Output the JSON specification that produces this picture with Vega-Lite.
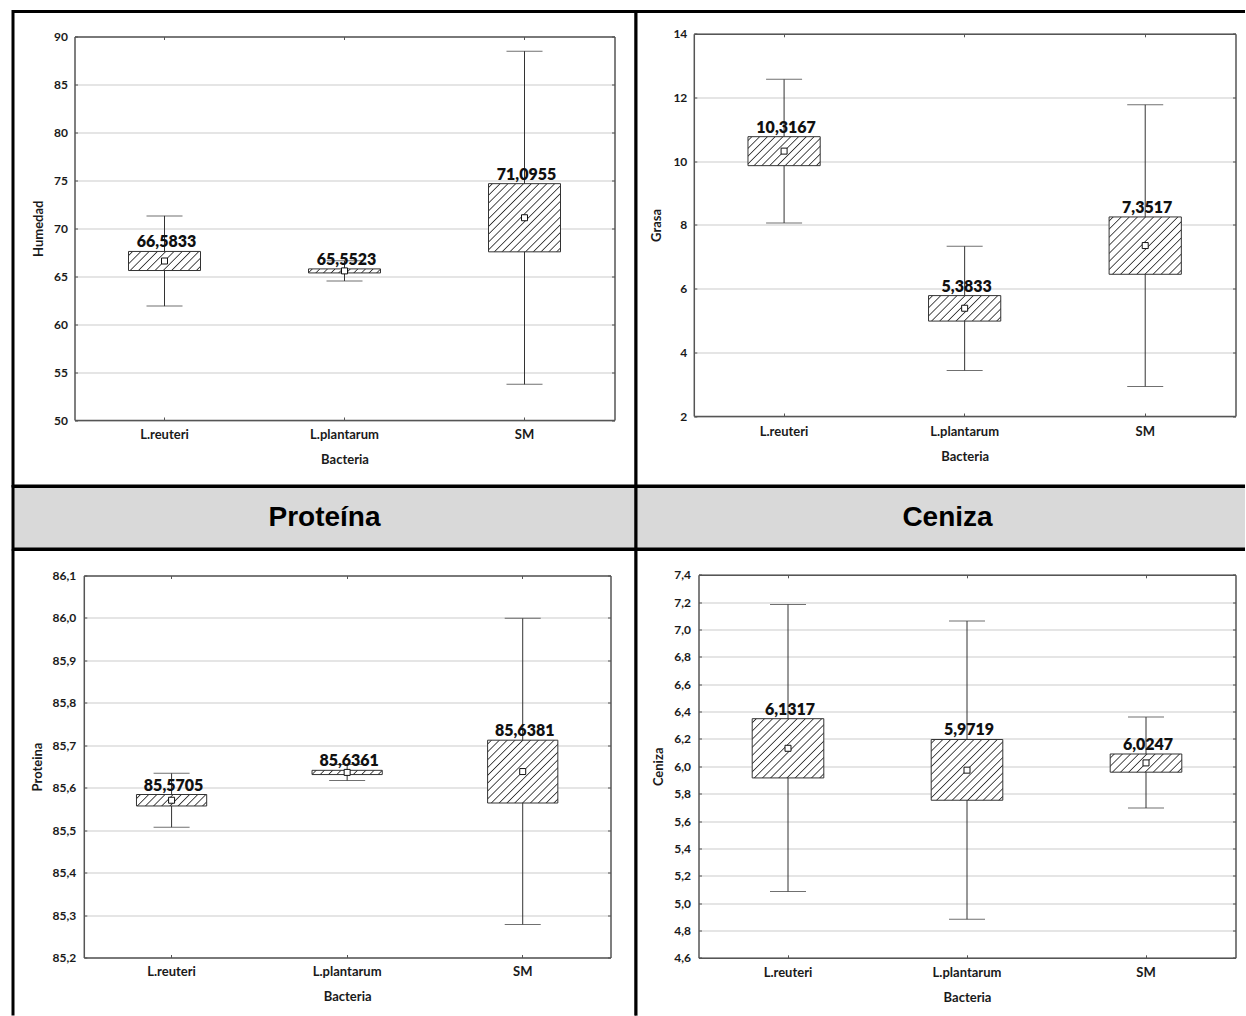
{
  "$schema": "https://vega.github.io/schema/vega-lite/v6.json",
  "padding": {"left": 11, "top": 9.5, "right": 0, "bottom": 0},
  "autosize": {"type": "pad"},
  "background": "white",
  "columns": 2,
  "spacing": 0,
  "bounds": "flush",
  "config": {
    "locale": {"number": {"decimal": ",", "thousands": ".", "grouping": [3], "currency": ["", " €"]}},
    "axis": {"labelFont": "Lato", "labelFontWeight": "bold", "labelFontSize": 12, "labelColor": "#1a1a1a", "titleFont": "Lato", "titleFontWeight": "bold", "titleFontSize": 13, "titleColor": "#1a1a1a", "domainColor": "#555555", "domainWidth": 1.5, "tickColor": "#555555", "tickWidth": 1, "gridColor": "#dcdcdc", "gridWidth": 1.5, "labelAngle": 0},
    "axisX": {"labelFontSize": 13},
    "text": {"font": "Lato"}
  },
  "datasets": {
    "humedad": [
      {"Bacteria": "L.reuteri", "mean": 66.5833, "boxLo": 65.59, "boxHi": 67.58, "whLo": 61.88, "whHi": 71.29},
      {"Bacteria": "L.plantarum", "mean": 65.5523, "boxLo": 65.34, "boxHi": 65.76, "whLo": 64.5, "whHi": 66.6},
      {"Bacteria": "SM", "mean": 71.0955, "boxLo": 67.54, "boxHi": 74.65, "whLo": 53.72, "whHi": 88.47}
    ],
    "grasa": [
      {"Bacteria": "L.reuteri", "mean": 10.3167, "boxLo": 9.86, "boxHi": 10.77, "whLo": 8.06, "whHi": 12.57},
      {"Bacteria": "L.plantarum", "mean": 5.3833, "boxLo": 4.98, "boxHi": 5.78, "whLo": 3.43, "whHi": 7.33},
      {"Bacteria": "SM", "mean": 7.3517, "boxLo": 6.45, "boxHi": 8.25, "whLo": 2.93, "whHi": 11.77}
    ],
    "proteina": [
      {"Bacteria": "L.reuteri", "mean": 85.5705, "boxLo": 85.557, "boxHi": 85.584, "whLo": 85.507, "whHi": 85.634},
      {"Bacteria": "L.plantarum", "mean": 85.6361, "boxLo": 85.631, "boxHi": 85.641, "whLo": 85.617, "whHi": 85.655},
      {"Bacteria": "SM", "mean": 85.6381, "boxLo": 85.564, "boxHi": 85.712, "whLo": 85.278, "whHi": 85.999}
    ],
    "ceniza": [
      {"Bacteria": "L.reuteri", "mean": 6.1317, "boxLo": 5.915, "boxHi": 6.348, "whLo": 5.085, "whHi": 7.183},
      {"Bacteria": "L.plantarum", "mean": 5.9719, "boxLo": 5.752, "boxHi": 6.196, "whLo": 4.882, "whHi": 7.062},
      {"Bacteria": "SM", "mean": 6.0247, "boxLo": 5.957, "boxHi": 6.09, "whLo": 5.695, "whHi": 6.36}
    ],
    "headP": [{"t": "Proteína"}],
    "headC": [{"t": "Ceniza"}]
  },
  "concat": [
    {
      "width": 623, "height": 474.5,
      "view": {"fill": "white", "stroke": "black", "strokeWidth": 3},
      "data": {"name": "humedad"},
      "resolve": {"axis": {"x": "independent", "y": "independent"}},
      "layer": [
        {"mark": {"type": "rule", "stroke": "#333333", "strokeWidth": 1},
         "encoding": {
           "x": {"field": "Bacteria", "type": "nominal", "scale": {"domain": ["L.reuteri", "L.plantarum", "SM"], "range": [61.5, 601.5], "paddingInner": 0, "paddingOuter": 0}, "axis": {"orient": "bottom", "offset": -66, "title": "Bacteria", "tickSize": -3, "labelPadding": 11, "titlePadding": 12, "grid": false}},
           "y": {"field": "whLo", "type": "quantitative", "scale": {"domain": [50, 90], "range": [408.5, 25], "nice": false, "zero": false}, "axis": {"orient": "left", "offset": -61.5, "title": "Humedad", "values": [50, 55, 60, 65, 70, 75, 80, 85, 90], "format": "d", "tickSize": -3, "labelPadding": 10, "titlePadding": 8, "grid": true}},
           "y2": {"field": "whHi"}}},
        {"mark": {"type": "tick", "size": 36, "thickness": 1, "color": "#333333"},
         "encoding": {
           "x": {"field": "Bacteria", "type": "nominal", "scale": {"domain": ["L.reuteri", "L.plantarum", "SM"], "range": [61.5, 601.5], "paddingInner": 0, "paddingOuter": 0}, "axis": {"orient": "top", "offset": -25, "labels": false, "title": null, "tickSize": -3, "grid": false}},
           "y": {"field": "whHi", "type": "quantitative", "scale": {"domain": [50, 90], "range": [408.5, 25], "nice": false, "zero": false}, "axis": {"orient": "right", "offset": -21.5, "labels": false, "title": null, "values": [50, 55, 60, 65, 70, 75, 80, 85, 90], "tickSize": -3, "grid": false}}}},
        {"mark": {"type": "tick", "size": 36, "thickness": 1, "color": "#333333"},
         "encoding": {
           "x": {"field": "Bacteria", "type": "nominal", "scale": {"domain": ["L.reuteri", "L.plantarum", "SM"], "range": [61.5, 601.5], "paddingInner": 0, "paddingOuter": 0}, "axis": null},
           "y": {"field": "whLo", "type": "quantitative", "scale": {"domain": [50, 90], "range": [408.5, 25], "nice": false, "zero": false}, "axis": null}}},
        {"mark": {"type": "bar", "width": {"band": 0.4}, "stroke": "#333333", "strokeWidth": 1},
         "encoding": {
           "x": {"field": "Bacteria", "type": "nominal", "scale": {"domain": ["L.reuteri", "L.plantarum", "SM"], "range": [61.5, 601.5], "paddingInner": 0, "paddingOuter": 0}, "axis": null},
           "y": {"field": "boxHi", "type": "quantitative", "scale": {"domain": [50, 90], "range": [408.5, 25], "nice": false, "zero": false}, "axis": null},
           "y2": {"field": "boxLo"},
           "fill": {
             "condition": [
               {"test": "datum.Bacteria === 'L.reuteri'", "value": {"gradient": "linear", "x1": 0, "y1": 0, "x2": 1.182, "y2": 0.3132, "stops": [
                 {"offset": 0.0322, "color": "#fff"}, {"offset": 0.0455, "color": "#333"}, {"offset": 0.0588, "color": "#fff"},
                 {"offset": 0.1231, "color": "#fff"}, {"offset": 0.1364, "color": "#333"}, {"offset": 0.1497, "color": "#fff"},
                 {"offset": 0.2140, "color": "#fff"}, {"offset": 0.2273, "color": "#333"}, {"offset": 0.2406, "color": "#fff"},
                 {"offset": 0.3049, "color": "#fff"}, {"offset": 0.3182, "color": "#333"}, {"offset": 0.3315, "color": "#fff"},
                 {"offset": 0.3958, "color": "#fff"}, {"offset": 0.4091, "color": "#333"}, {"offset": 0.4224, "color": "#fff"},
                 {"offset": 0.4867, "color": "#fff"}, {"offset": 0.5, "color": "#333"}, {"offset": 0.5133, "color": "#fff"},
                 {"offset": 0.5776, "color": "#fff"}, {"offset": 0.5909, "color": "#333"}, {"offset": 0.6042, "color": "#fff"},
                 {"offset": 0.6685, "color": "#fff"}, {"offset": 0.6818, "color": "#333"}, {"offset": 0.6951, "color": "#fff"},
                 {"offset": 0.7594, "color": "#fff"}, {"offset": 0.7727, "color": "#333"}, {"offset": 0.7860, "color": "#fff"},
                 {"offset": 0.8503, "color": "#fff"}, {"offset": 0.8636, "color": "#333"}, {"offset": 0.8769, "color": "#fff"},
                 {"offset": 0.9412, "color": "#fff"}, {"offset": 0.9545, "color": "#333"}, {"offset": 0.9678, "color": "#fff"}]}},
               {"test": "datum.Bacteria === 'L.plantarum'", "value": {"gradient": "linear", "x1": 0, "y1": 0, "x2": 1.0527, "y2": 0.0589, "stops": [
                 {"offset": 0.0348, "color": "#fff"}, {"offset": 0.05, "color": "#333"}, {"offset": 0.0652, "color": "#fff"},
                 {"offset": 0.1348, "color": "#fff"}, {"offset": 0.15, "color": "#333"}, {"offset": 0.1652, "color": "#fff"},
                 {"offset": 0.2348, "color": "#fff"}, {"offset": 0.25, "color": "#333"}, {"offset": 0.2652, "color": "#fff"},
                 {"offset": 0.3348, "color": "#fff"}, {"offset": 0.35, "color": "#333"}, {"offset": 0.3652, "color": "#fff"},
                 {"offset": 0.4348, "color": "#fff"}, {"offset": 0.45, "color": "#333"}, {"offset": 0.4652, "color": "#fff"},
                 {"offset": 0.5348, "color": "#fff"}, {"offset": 0.55, "color": "#333"}, {"offset": 0.5652, "color": "#fff"},
                 {"offset": 0.6348, "color": "#fff"}, {"offset": 0.65, "color": "#333"}, {"offset": 0.6652, "color": "#fff"},
                 {"offset": 0.7348, "color": "#fff"}, {"offset": 0.75, "color": "#333"}, {"offset": 0.7652, "color": "#fff"},
                 {"offset": 0.8348, "color": "#fff"}, {"offset": 0.85, "color": "#333"}, {"offset": 0.8652, "color": "#fff"},
                 {"offset": 0.9348, "color": "#fff"}, {"offset": 0.95, "color": "#333"}, {"offset": 0.9652, "color": "#fff"}]}}
             ],
             "value": {"gradient": "linear", "x1": 0, "y1": 0, "x2": 1.0266, "y2": 0.972, "stops": [
               {"offset": 0.0192, "color": "#fff"}, {"offset": 0.0278, "color": "#333"}, {"offset": 0.0364, "color": "#fff"},
               {"offset": 0.0747, "color": "#fff"}, {"offset": 0.0833, "color": "#333"}, {"offset": 0.0919, "color": "#fff"},
               {"offset": 0.1303, "color": "#fff"}, {"offset": 0.1389, "color": "#333"}, {"offset": 0.1475, "color": "#fff"},
               {"offset": 0.1858, "color": "#fff"}, {"offset": 0.1944, "color": "#333"}, {"offset": 0.2030, "color": "#fff"},
               {"offset": 0.2414, "color": "#fff"}, {"offset": 0.25, "color": "#333"}, {"offset": 0.2586, "color": "#fff"},
               {"offset": 0.2970, "color": "#fff"}, {"offset": 0.3056, "color": "#333"}, {"offset": 0.3142, "color": "#fff"},
               {"offset": 0.3525, "color": "#fff"}, {"offset": 0.3611, "color": "#333"}, {"offset": 0.3697, "color": "#fff"},
               {"offset": 0.4081, "color": "#fff"}, {"offset": 0.4167, "color": "#333"}, {"offset": 0.4253, "color": "#fff"},
               {"offset": 0.4636, "color": "#fff"}, {"offset": 0.4722, "color": "#333"}, {"offset": 0.4808, "color": "#fff"},
               {"offset": 0.5192, "color": "#fff"}, {"offset": 0.5278, "color": "#333"}, {"offset": 0.5364, "color": "#fff"},
               {"offset": 0.5747, "color": "#fff"}, {"offset": 0.5833, "color": "#333"}, {"offset": 0.5919, "color": "#fff"},
               {"offset": 0.6303, "color": "#fff"}, {"offset": 0.6389, "color": "#333"}, {"offset": 0.6475, "color": "#fff"},
               {"offset": 0.6858, "color": "#fff"}, {"offset": 0.6944, "color": "#333"}, {"offset": 0.7030, "color": "#fff"},
               {"offset": 0.7414, "color": "#fff"}, {"offset": 0.75, "color": "#333"}, {"offset": 0.7586, "color": "#fff"},
               {"offset": 0.7970, "color": "#fff"}, {"offset": 0.8056, "color": "#333"}, {"offset": 0.8142, "color": "#fff"},
               {"offset": 0.8525, "color": "#fff"}, {"offset": 0.8611, "color": "#333"}, {"offset": 0.8697, "color": "#fff"},
               {"offset": 0.9081, "color": "#fff"}, {"offset": 0.9167, "color": "#333"}, {"offset": 0.9253, "color": "#fff"},
               {"offset": 0.9636, "color": "#fff"}, {"offset": 0.9722, "color": "#333"}, {"offset": 0.9808, "color": "#fff"}]}
           }}},
        {"mark": {"type": "point", "shape": "square", "size": 36, "filled": true, "fill": "white", "stroke": "#111111", "strokeWidth": 1, "opacity": 1},
         "encoding": {
           "x": {"field": "Bacteria", "type": "nominal", "scale": {"domain": ["L.reuteri", "L.plantarum", "SM"], "range": [61.5, 601.5], "paddingInner": 0, "paddingOuter": 0}, "axis": null},
           "y": {"field": "mean", "type": "quantitative", "scale": {"domain": [50, 90], "range": [408.5, 25], "nice": false, "zero": false}, "axis": null}}},
        {"mark": {"type": "text", "font": "Lato", "fontWeight": 800, "fontSize": 16, "baseline": "bottom", "dy": -1, "dx": 2, "color": "#111111"},
         "encoding": {
           "x": {"field": "Bacteria", "type": "nominal", "scale": {"domain": ["L.reuteri", "L.plantarum", "SM"], "range": [61.5, 601.5], "paddingInner": 0, "paddingOuter": 0}, "axis": null},
           "y": {"field": "boxHi", "type": "quantitative", "scale": {"domain": [50, 90], "range": [408.5, 25], "nice": false, "zero": false}, "axis": null},
           "text": {"field": "mean", "type": "quantitative", "format": ".4f"}}}
      ]
    },
    {
      "width": 609, "height": 474.5,
      "view": {"fill": "white", "stroke": "black", "strokeWidth": 3, "strokeDash": [609, 474.5, 1083.5, 0]},
      "data": {"name": "grasa"},
      "resolve": {"axis": {"x": "independent", "y": "independent"}},
      "layer": [
        {"mark": {"type": "rule", "stroke": "#333333", "strokeWidth": 1},
         "encoding": {
           "x": {"field": "Bacteria", "type": "nominal", "scale": {"domain": ["L.reuteri", "L.plantarum", "SM"], "range": [57.8, 599.5], "paddingInner": 0, "paddingOuter": 0}, "axis": {"orient": "bottom", "offset": -70, "title": "Bacteria", "tickSize": -3, "labelPadding": 12.5, "titlePadding": 12, "grid": false}},
           "y": {"field": "whLo", "type": "quantitative", "scale": {"domain": [2, 14], "range": [404.5, 22.3], "nice": false, "zero": false}, "axis": {"orient": "left", "offset": -57.8, "title": "Grasa", "values": [2, 4, 6, 8, 10, 12, 14], "format": "d", "tickSize": -3, "labelPadding": 10, "titlePadding": 9, "grid": true}},
           "y2": {"field": "whHi"}}},
        {"mark": {"type": "tick", "size": 36, "thickness": 1, "color": "#333333"},
         "encoding": {
           "x": {"field": "Bacteria", "type": "nominal", "scale": {"domain": ["L.reuteri", "L.plantarum", "SM"], "range": [57.8, 599.5], "paddingInner": 0, "paddingOuter": 0}, "axis": {"orient": "top", "offset": -22.3, "labels": false, "title": null, "tickSize": -3, "grid": false}},
           "y": {"field": "whHi", "type": "quantitative", "scale": {"domain": [2, 14], "range": [404.5, 22.3], "nice": false, "zero": false}, "axis": {"orient": "right", "offset": -9.5, "labels": false, "title": null, "values": [2, 4, 6, 8, 10, 12, 14], "tickSize": -3, "grid": false}}}},
        {"mark": {"type": "tick", "size": 36, "thickness": 1, "color": "#333333"},
         "encoding": {
           "x": {"field": "Bacteria", "type": "nominal", "scale": {"domain": ["L.reuteri", "L.plantarum", "SM"], "range": [57.8, 599.5], "paddingInner": 0, "paddingOuter": 0}, "axis": null},
           "y": {"field": "whLo", "type": "quantitative", "scale": {"domain": [2, 14], "range": [404.5, 22.3], "nice": false, "zero": false}, "axis": null}}},
        {"mark": {"type": "bar", "width": {"band": 0.4}, "stroke": "#333333", "strokeWidth": 1},
         "encoding": {
           "x": {"field": "Bacteria", "type": "nominal", "scale": {"domain": ["L.reuteri", "L.plantarum", "SM"], "range": [57.8, 599.5], "paddingInner": 0, "paddingOuter": 0}, "axis": null},
           "y": {"field": "boxHi", "type": "quantitative", "scale": {"domain": [2, 14], "range": [404.5, 22.3], "nice": false, "zero": false}, "axis": null},
           "y2": {"field": "boxLo"},
           "fill": {
             "condition": [
               {"test": "datum.Bacteria === 'L.reuteri'", "value": {"gradient": "linear", "x1": 0, "y1": 0, "x2": 1.207, "y2": 0.4843, "stops": [
                 {"offset": 0.0266, "color": "#fff"}, {"offset": 0.0385, "color": "#333"}, {"offset": 0.0504, "color": "#fff"},
                 {"offset": 0.1035, "color": "#fff"}, {"offset": 0.1154, "color": "#333"}, {"offset": 0.1273, "color": "#fff"},
                 {"offset": 0.1804, "color": "#fff"}, {"offset": 0.1923, "color": "#333"}, {"offset": 0.2042, "color": "#fff"},
                 {"offset": 0.2573, "color": "#fff"}, {"offset": 0.2692, "color": "#333"}, {"offset": 0.2811, "color": "#fff"},
                 {"offset": 0.3343, "color": "#fff"}, {"offset": 0.3462, "color": "#333"}, {"offset": 0.3581, "color": "#fff"},
                 {"offset": 0.4112, "color": "#fff"}, {"offset": 0.4231, "color": "#333"}, {"offset": 0.4350, "color": "#fff"},
                 {"offset": 0.4881, "color": "#fff"}, {"offset": 0.5, "color": "#333"}, {"offset": 0.5119, "color": "#fff"},
                 {"offset": 0.5650, "color": "#fff"}, {"offset": 0.5769, "color": "#333"}, {"offset": 0.5888, "color": "#fff"},
                 {"offset": 0.6419, "color": "#fff"}, {"offset": 0.6538, "color": "#333"}, {"offset": 0.6657, "color": "#fff"},
                 {"offset": 0.7189, "color": "#fff"}, {"offset": 0.7308, "color": "#333"}, {"offset": 0.7427, "color": "#fff"},
                 {"offset": 0.7958, "color": "#fff"}, {"offset": 0.8077, "color": "#333"}, {"offset": 0.8196, "color": "#fff"},
                 {"offset": 0.8727, "color": "#fff"}, {"offset": 0.8846, "color": "#333"}, {"offset": 0.8965, "color": "#fff"},
                 {"offset": 0.9496, "color": "#fff"}, {"offset": 0.9615, "color": "#333"}, {"offset": 0.9734, "color": "#fff"}]}},
               {"test": "datum.Bacteria === 'L.plantarum'", "value": {"gradient": "linear", "x1": 0, "y1": 0, "x2": 1.2031, "y2": 0.4244, "stops": [
                 {"offset": 0.0294, "color": "#fff"}, {"offset": 0.0417, "color": "#333"}, {"offset": 0.0540, "color": "#fff"},
                 {"offset": 0.1127, "color": "#fff"}, {"offset": 0.125, "color": "#333"}, {"offset": 0.1373, "color": "#fff"},
                 {"offset": 0.1960, "color": "#fff"}, {"offset": 0.2083, "color": "#333"}, {"offset": 0.2206, "color": "#fff"},
                 {"offset": 0.2794, "color": "#fff"}, {"offset": 0.2917, "color": "#333"}, {"offset": 0.3040, "color": "#fff"},
                 {"offset": 0.3627, "color": "#fff"}, {"offset": 0.375, "color": "#333"}, {"offset": 0.3873, "color": "#fff"},
                 {"offset": 0.4460, "color": "#fff"}, {"offset": 0.4583, "color": "#333"}, {"offset": 0.4706, "color": "#fff"},
                 {"offset": 0.5294, "color": "#fff"}, {"offset": 0.5417, "color": "#333"}, {"offset": 0.5540, "color": "#fff"},
                 {"offset": 0.6127, "color": "#fff"}, {"offset": 0.625, "color": "#333"}, {"offset": 0.6373, "color": "#fff"},
                 {"offset": 0.6960, "color": "#fff"}, {"offset": 0.7083, "color": "#333"}, {"offset": 0.7206, "color": "#fff"},
                 {"offset": 0.7794, "color": "#fff"}, {"offset": 0.7917, "color": "#333"}, {"offset": 0.8040, "color": "#fff"},
                 {"offset": 0.8627, "color": "#fff"}, {"offset": 0.875, "color": "#333"}, {"offset": 0.8873, "color": "#fff"},
                 {"offset": 0.9460, "color": "#fff"}, {"offset": 0.9583, "color": "#333"}, {"offset": 0.9706, "color": "#fff"}]}}
             ],
             "value": {"gradient": "linear", "x1": 0, "y1": 0, "x2": 1.1004, "y2": 0.8734, "stops": [
               {"offset": 0.0221, "color": "#fff"}, {"offset": 0.0313, "color": "#333"}, {"offset": 0.0405, "color": "#fff"},
               {"offset": 0.0846, "color": "#fff"}, {"offset": 0.0938, "color": "#333"}, {"offset": 0.1030, "color": "#fff"},
               {"offset": 0.1471, "color": "#fff"}, {"offset": 0.1563, "color": "#333"}, {"offset": 0.1655, "color": "#fff"},
               {"offset": 0.2096, "color": "#fff"}, {"offset": 0.2188, "color": "#333"}, {"offset": 0.2280, "color": "#fff"},
               {"offset": 0.2721, "color": "#fff"}, {"offset": 0.2813, "color": "#333"}, {"offset": 0.2905, "color": "#fff"},
               {"offset": 0.3346, "color": "#fff"}, {"offset": 0.3438, "color": "#333"}, {"offset": 0.3530, "color": "#fff"},
               {"offset": 0.3971, "color": "#fff"}, {"offset": 0.4063, "color": "#333"}, {"offset": 0.4155, "color": "#fff"},
               {"offset": 0.4596, "color": "#fff"}, {"offset": 0.4688, "color": "#333"}, {"offset": 0.4780, "color": "#fff"},
               {"offset": 0.5221, "color": "#fff"}, {"offset": 0.5313, "color": "#333"}, {"offset": 0.5405, "color": "#fff"},
               {"offset": 0.5846, "color": "#fff"}, {"offset": 0.5938, "color": "#333"}, {"offset": 0.6030, "color": "#fff"},
               {"offset": 0.6471, "color": "#fff"}, {"offset": 0.6563, "color": "#333"}, {"offset": 0.6655, "color": "#fff"},
               {"offset": 0.7096, "color": "#fff"}, {"offset": 0.7188, "color": "#333"}, {"offset": 0.7280, "color": "#fff"},
               {"offset": 0.7721, "color": "#fff"}, {"offset": 0.7813, "color": "#333"}, {"offset": 0.7905, "color": "#fff"},
               {"offset": 0.8346, "color": "#fff"}, {"offset": 0.8438, "color": "#333"}, {"offset": 0.8530, "color": "#fff"},
               {"offset": 0.8971, "color": "#fff"}, {"offset": 0.9063, "color": "#333"}, {"offset": 0.9155, "color": "#fff"},
               {"offset": 0.9596, "color": "#fff"}, {"offset": 0.9688, "color": "#333"}, {"offset": 0.9780, "color": "#fff"}]}
           }}},
        {"mark": {"type": "point", "shape": "square", "size": 36, "filled": true, "fill": "white", "stroke": "#111111", "strokeWidth": 1, "opacity": 1},
         "encoding": {
           "x": {"field": "Bacteria", "type": "nominal", "scale": {"domain": ["L.reuteri", "L.plantarum", "SM"], "range": [57.8, 599.5], "paddingInner": 0, "paddingOuter": 0}, "axis": null},
           "y": {"field": "mean", "type": "quantitative", "scale": {"domain": [2, 14], "range": [404.5, 22.3], "nice": false, "zero": false}, "axis": null}}},
        {"mark": {"type": "text", "font": "Lato", "fontWeight": 800, "fontSize": 16, "baseline": "bottom", "dy": -1, "dx": 2, "color": "#111111"},
         "encoding": {
           "x": {"field": "Bacteria", "type": "nominal", "scale": {"domain": ["L.reuteri", "L.plantarum", "SM"], "range": [57.8, 599.5], "paddingInner": 0, "paddingOuter": 0}, "axis": null},
           "y": {"field": "boxHi", "type": "quantitative", "scale": {"domain": [2, 14], "range": [404.5, 22.3], "nice": false, "zero": false}, "axis": null},
           "text": {"field": "mean", "type": "quantitative", "format": ".4f"}}}
      ]
    },
    {
      "width": 623, "height": 62.5,
      "view": {"fill": "#d9d9d9", "stroke": "black", "strokeWidth": 3},
      "data": {"name": "headP"},
      "mark": {"type": "text", "font": "Liberation Sans", "fontWeight": "bold", "fontSize": 28, "baseline": "middle", "align": "center", "color": "#000000"},
      "encoding": {"text": {"field": "t", "type": "nominal"}}
    },
    {
      "width": 609, "height": 62.5,
      "view": {"fill": "#d9d9d9", "stroke": "black", "strokeWidth": 3, "strokeDash": [609, 62.5, 671.5, 0]},
      "data": {"name": "headC"},
      "mark": {"type": "text", "font": "Liberation Sans", "fontWeight": "bold", "fontSize": 28, "baseline": "middle", "align": "center", "dx": 7, "color": "#000000"},
      "encoding": {"text": {"field": "t", "type": "nominal"}}
    },
    {
      "width": 623, "height": 466,
      "view": {"fill": "white", "stroke": "black", "strokeWidth": 3, "strokeDash": [1089, 623, 466, 0]},
      "data": {"name": "proteina"},
      "resolve": {"axis": {"x": "independent", "y": "independent"}},
      "layer": [
        {"mark": {"type": "rule", "stroke": "#333333", "strokeWidth": 1},
         "encoding": {
           "x": {"field": "Bacteria", "type": "nominal", "scale": {"domain": ["L.reuteri", "L.plantarum", "SM"], "range": [70.8, 597.5], "paddingInner": 0, "paddingOuter": 0}, "axis": {"orient": "bottom", "offset": -58, "title": "Bacteria", "tickSize": -3, "labelPadding": 11, "titlePadding": 11.5, "grid": false}},
           "y": {"field": "whLo", "type": "quantitative", "scale": {"domain": [85.2, 86.1], "range": [408, 26], "nice": false, "zero": false}, "axis": {"orient": "left", "offset": -70.8, "title": "Proteina", "values": [85.2, 85.3, 85.4, 85.5, 85.6, 85.7, 85.8, 85.9, 86.0, 86.1], "format": ".1f", "tickSize": -3, "labelPadding": 11, "titlePadding": 8, "grid": true}},
           "y2": {"field": "whHi"}}},
        {"mark": {"type": "tick", "size": 36, "thickness": 1, "color": "#333333"},
         "encoding": {
           "x": {"field": "Bacteria", "type": "nominal", "scale": {"domain": ["L.reuteri", "L.plantarum", "SM"], "range": [70.8, 597.5], "paddingInner": 0, "paddingOuter": 0}, "axis": {"orient": "top", "offset": -26, "labels": false, "title": null, "tickSize": -3, "grid": false}},
           "y": {"field": "whHi", "type": "quantitative", "scale": {"domain": [85.2, 86.1], "range": [408, 26], "nice": false, "zero": false}, "axis": {"orient": "right", "offset": -25.5, "labels": false, "title": null, "values": [85.2, 85.3, 85.4, 85.5, 85.6, 85.7, 85.8, 85.9, 86.0, 86.1], "tickSize": -3, "grid": false}}}},
        {"mark": {"type": "tick", "size": 36, "thickness": 1, "color": "#333333"},
         "encoding": {
           "x": {"field": "Bacteria", "type": "nominal", "scale": {"domain": ["L.reuteri", "L.plantarum", "SM"], "range": [70.8, 597.5], "paddingInner": 0, "paddingOuter": 0}, "axis": null},
           "y": {"field": "whLo", "type": "quantitative", "scale": {"domain": [85.2, 86.1], "range": [408, 26], "nice": false, "zero": false}, "axis": null}}},
        {"mark": {"type": "bar", "width": {"band": 0.4}, "stroke": "#333333", "strokeWidth": 1},
         "encoding": {
           "x": {"field": "Bacteria", "type": "nominal", "scale": {"domain": ["L.reuteri", "L.plantarum", "SM"], "range": [70.8, 597.5], "paddingInner": 0, "paddingOuter": 0}, "axis": null},
           "y": {"field": "boxHi", "type": "quantitative", "scale": {"domain": [85.2, 86.1], "range": [408, 26], "nice": false, "zero": false}, "axis": null},
           "y2": {"field": "boxLo"},
           "fill": {
             "condition": [
               {"test": "datum.Bacteria === 'L.reuteri'", "value": {"gradient": "linear", "x1": 0, "y1": 0, "x2": 1.133, "y2": 0.1849, "stops": [
                 {"offset": 0.0348, "color": "#fff"}, {"offset": 0.05, "color": "#333"}, {"offset": 0.0652, "color": "#fff"},
                 {"offset": 0.1348, "color": "#fff"}, {"offset": 0.15, "color": "#333"}, {"offset": 0.1652, "color": "#fff"},
                 {"offset": 0.2348, "color": "#fff"}, {"offset": 0.25, "color": "#333"}, {"offset": 0.2652, "color": "#fff"},
                 {"offset": 0.3348, "color": "#fff"}, {"offset": 0.35, "color": "#333"}, {"offset": 0.3652, "color": "#fff"},
                 {"offset": 0.4348, "color": "#fff"}, {"offset": 0.45, "color": "#333"}, {"offset": 0.4652, "color": "#fff"},
                 {"offset": 0.5348, "color": "#fff"}, {"offset": 0.55, "color": "#333"}, {"offset": 0.5652, "color": "#fff"},
                 {"offset": 0.6348, "color": "#fff"}, {"offset": 0.65, "color": "#333"}, {"offset": 0.6652, "color": "#fff"},
                 {"offset": 0.7348, "color": "#fff"}, {"offset": 0.75, "color": "#333"}, {"offset": 0.7652, "color": "#fff"},
                 {"offset": 0.8348, "color": "#fff"}, {"offset": 0.85, "color": "#333"}, {"offset": 0.8652, "color": "#fff"},
                 {"offset": 0.9348, "color": "#fff"}, {"offset": 0.95, "color": "#333"}, {"offset": 0.9652, "color": "#fff"}]}},
               {"test": "datum.Bacteria === 'L.plantarum'", "value": {"gradient": "linear", "x1": 0, "y1": 0, "x2": 1.0565, "y2": 0.0638, "stops": [
                 {"offset": 0.0395, "color": "#fff"}, {"offset": 0.0556, "color": "#333"}, {"offset": 0.0717, "color": "#fff"},
                 {"offset": 0.1506, "color": "#fff"}, {"offset": 0.1667, "color": "#333"}, {"offset": 0.1828, "color": "#fff"},
                 {"offset": 0.2617, "color": "#fff"}, {"offset": 0.2778, "color": "#333"}, {"offset": 0.2939, "color": "#fff"},
                 {"offset": 0.3728, "color": "#fff"}, {"offset": 0.3889, "color": "#333"}, {"offset": 0.4050, "color": "#fff"},
                 {"offset": 0.4839, "color": "#fff"}, {"offset": 0.5, "color": "#333"}, {"offset": 0.5161, "color": "#fff"},
                 {"offset": 0.5950, "color": "#fff"}, {"offset": 0.6111, "color": "#333"}, {"offset": 0.6272, "color": "#fff"},
                 {"offset": 0.7061, "color": "#fff"}, {"offset": 0.7222, "color": "#333"}, {"offset": 0.7383, "color": "#fff"},
                 {"offset": 0.8172, "color": "#fff"}, {"offset": 0.8333, "color": "#333"}, {"offset": 0.8494, "color": "#fff"},
                 {"offset": 0.9283, "color": "#fff"}, {"offset": 0.9444, "color": "#333"}, {"offset": 0.9605, "color": "#fff"}]}}
             ],
             "value": {"gradient": "linear", "x1": 0, "y1": 0, "x2": 1.0524, "y2": 0.9414, "stops": [
               {"offset": 0.0204, "color": "#fff"}, {"offset": 0.0294, "color": "#333"}, {"offset": 0.0384, "color": "#fff"},
               {"offset": 0.0792, "color": "#fff"}, {"offset": 0.0882, "color": "#333"}, {"offset": 0.0972, "color": "#fff"},
               {"offset": 0.1381, "color": "#fff"}, {"offset": 0.1471, "color": "#333"}, {"offset": 0.1561, "color": "#fff"},
               {"offset": 0.1969, "color": "#fff"}, {"offset": 0.2059, "color": "#333"}, {"offset": 0.2149, "color": "#fff"},
               {"offset": 0.2557, "color": "#fff"}, {"offset": 0.2647, "color": "#333"}, {"offset": 0.2737, "color": "#fff"},
               {"offset": 0.3145, "color": "#fff"}, {"offset": 0.3235, "color": "#333"}, {"offset": 0.3325, "color": "#fff"},
               {"offset": 0.3734, "color": "#fff"}, {"offset": 0.3824, "color": "#333"}, {"offset": 0.3914, "color": "#fff"},
               {"offset": 0.4322, "color": "#fff"}, {"offset": 0.4412, "color": "#333"}, {"offset": 0.4502, "color": "#fff"},
               {"offset": 0.4910, "color": "#fff"}, {"offset": 0.5, "color": "#333"}, {"offset": 0.5090, "color": "#fff"},
               {"offset": 0.5498, "color": "#fff"}, {"offset": 0.5588, "color": "#333"}, {"offset": 0.5678, "color": "#fff"},
               {"offset": 0.6087, "color": "#fff"}, {"offset": 0.6177, "color": "#333"}, {"offset": 0.6267, "color": "#fff"},
               {"offset": 0.6675, "color": "#fff"}, {"offset": 0.6765, "color": "#333"}, {"offset": 0.6855, "color": "#fff"},
               {"offset": 0.7263, "color": "#fff"}, {"offset": 0.7353, "color": "#333"}, {"offset": 0.7443, "color": "#fff"},
               {"offset": 0.7851, "color": "#fff"}, {"offset": 0.7941, "color": "#333"}, {"offset": 0.8031, "color": "#fff"},
               {"offset": 0.8439, "color": "#fff"}, {"offset": 0.8529, "color": "#333"}, {"offset": 0.8619, "color": "#fff"},
               {"offset": 0.9028, "color": "#fff"}, {"offset": 0.9118, "color": "#333"}, {"offset": 0.9208, "color": "#fff"},
               {"offset": 0.9616, "color": "#fff"}, {"offset": 0.9706, "color": "#333"}, {"offset": 0.9796, "color": "#fff"}]}
           }}},
        {"mark": {"type": "point", "shape": "square", "size": 36, "filled": true, "fill": "white", "stroke": "#111111", "strokeWidth": 1, "opacity": 1},
         "encoding": {
           "x": {"field": "Bacteria", "type": "nominal", "scale": {"domain": ["L.reuteri", "L.plantarum", "SM"], "range": [70.8, 597.5], "paddingInner": 0, "paddingOuter": 0}, "axis": null},
           "y": {"field": "mean", "type": "quantitative", "scale": {"domain": [85.2, 86.1], "range": [408, 26], "nice": false, "zero": false}, "axis": null}}},
        {"mark": {"type": "text", "font": "Lato", "fontWeight": 800, "fontSize": 16, "baseline": "bottom", "dy": -1, "dx": 2, "color": "#111111"},
         "encoding": {
           "x": {"field": "Bacteria", "type": "nominal", "scale": {"domain": ["L.reuteri", "L.plantarum", "SM"], "range": [70.8, 597.5], "paddingInner": 0, "paddingOuter": 0}, "axis": null},
           "y": {"field": "boxHi", "type": "quantitative", "scale": {"domain": [85.2, 86.1], "range": [408, 26], "nice": false, "zero": false}, "axis": null},
           "text": {"field": "mean", "type": "quantitative", "format": ".4f"}}}
      ]
    },
    {
      "width": 609, "height": 466,
      "view": {"fill": "white", "stroke": "black", "strokeWidth": 3, "strokeDash": [609, 1075, 466, 0]},
      "data": {"name": "ceniza"},
      "resolve": {"axis": {"x": "independent", "y": "independent"}},
      "layer": [
        {"mark": {"type": "rule", "stroke": "#333333", "strokeWidth": 1},
         "encoding": {
           "x": {"field": "Bacteria", "type": "nominal", "scale": {"domain": ["L.reuteri", "L.plantarum", "SM"], "range": [62.5, 599.5], "paddingInner": 0, "paddingOuter": 0}, "axis": {"orient": "bottom", "offset": -57.7, "title": "Bacteria", "tickSize": -3, "labelPadding": 12, "titlePadding": 11.5, "grid": false}},
           "y": {"field": "whLo", "type": "quantitative", "scale": {"domain": [4.6, 7.4], "range": [408.3, 25.3], "nice": false, "zero": false}, "axis": {"orient": "left", "offset": -62.5, "title": "Ceniza", "values": [4.6, 4.8, 5.0, 5.2, 5.4, 5.6, 5.8, 6.0, 6.2, 6.4, 6.6, 6.8, 7.0, 7.2, 7.4], "format": ".1f", "tickSize": -3, "labelPadding": 11, "titlePadding": 8, "grid": true}},
           "y2": {"field": "whHi"}}},
        {"mark": {"type": "tick", "size": 36, "thickness": 1, "color": "#333333"},
         "encoding": {
           "x": {"field": "Bacteria", "type": "nominal", "scale": {"domain": ["L.reuteri", "L.plantarum", "SM"], "range": [62.5, 599.5], "paddingInner": 0, "paddingOuter": 0}, "axis": {"orient": "top", "offset": -25.3, "labels": false, "title": null, "tickSize": -3, "grid": false}},
           "y": {"field": "whHi", "type": "quantitative", "scale": {"domain": [4.6, 7.4], "range": [408.3, 25.3], "nice": false, "zero": false}, "axis": {"orient": "right", "offset": -9.5, "labels": false, "title": null, "values": [4.6, 4.8, 5.0, 5.2, 5.4, 5.6, 5.8, 6.0, 6.2, 6.4, 6.6, 6.8, 7.0, 7.2, 7.4], "tickSize": -3, "grid": false}}}},
        {"mark": {"type": "tick", "size": 36, "thickness": 1, "color": "#333333"},
         "encoding": {
           "x": {"field": "Bacteria", "type": "nominal", "scale": {"domain": ["L.reuteri", "L.plantarum", "SM"], "range": [62.5, 599.5], "paddingInner": 0, "paddingOuter": 0}, "axis": null},
           "y": {"field": "whLo", "type": "quantitative", "scale": {"domain": [4.6, 7.4], "range": [408.3, 25.3], "nice": false, "zero": false}, "axis": null}}},
        {"mark": {"type": "bar", "width": {"band": 0.4}, "stroke": "#333333", "strokeWidth": 1},
         "encoding": {
           "x": {"field": "Bacteria", "type": "nominal", "scale": {"domain": ["L.reuteri", "L.plantarum", "SM"], "range": [62.5, 599.5], "paddingInner": 0, "paddingOuter": 0}, "axis": null},
           "y": {"field": "boxHi", "type": "quantitative", "scale": {"domain": [4.6, 7.4], "range": [408.3, 25.3], "nice": false, "zero": false}, "axis": null},
           "y2": {"field": "boxLo"},
           "fill": {
             "condition": [
               {"test": "datum.Bacteria === 'L.reuteri'", "value": {"gradient": "linear", "x1": 0, "y1": 0, "x2": 1.0848, "y2": 0.8974, "stops": [
                 {"offset": 0.0221, "color": "#fff"}, {"offset": 0.0313, "color": "#333"}, {"offset": 0.0405, "color": "#fff"},
                 {"offset": 0.0846, "color": "#fff"}, {"offset": 0.0938, "color": "#333"}, {"offset": 0.1030, "color": "#fff"},
                 {"offset": 0.1471, "color": "#fff"}, {"offset": 0.1563, "color": "#333"}, {"offset": 0.1655, "color": "#fff"},
                 {"offset": 0.2096, "color": "#fff"}, {"offset": 0.2188, "color": "#333"}, {"offset": 0.2280, "color": "#fff"},
                 {"offset": 0.2721, "color": "#fff"}, {"offset": 0.2813, "color": "#333"}, {"offset": 0.2905, "color": "#fff"},
                 {"offset": 0.3346, "color": "#fff"}, {"offset": 0.3438, "color": "#333"}, {"offset": 0.3530, "color": "#fff"},
                 {"offset": 0.3971, "color": "#fff"}, {"offset": 0.4063, "color": "#333"}, {"offset": 0.4155, "color": "#fff"},
                 {"offset": 0.4596, "color": "#fff"}, {"offset": 0.4688, "color": "#333"}, {"offset": 0.4780, "color": "#fff"},
                 {"offset": 0.5221, "color": "#fff"}, {"offset": 0.5313, "color": "#333"}, {"offset": 0.5405, "color": "#fff"},
                 {"offset": 0.5846, "color": "#fff"}, {"offset": 0.5938, "color": "#333"}, {"offset": 0.6030, "color": "#fff"},
                 {"offset": 0.6471, "color": "#fff"}, {"offset": 0.6563, "color": "#333"}, {"offset": 0.6655, "color": "#fff"},
                 {"offset": 0.7096, "color": "#fff"}, {"offset": 0.7188, "color": "#333"}, {"offset": 0.7280, "color": "#fff"},
                 {"offset": 0.7721, "color": "#fff"}, {"offset": 0.7813, "color": "#333"}, {"offset": 0.7905, "color": "#fff"},
                 {"offset": 0.8346, "color": "#fff"}, {"offset": 0.8438, "color": "#333"}, {"offset": 0.8530, "color": "#fff"},
                 {"offset": 0.8971, "color": "#fff"}, {"offset": 0.9063, "color": "#333"}, {"offset": 0.9155, "color": "#fff"},
                 {"offset": 0.9596, "color": "#fff"}, {"offset": 0.9688, "color": "#333"}, {"offset": 0.9780, "color": "#fff"}]}},
               {"test": "datum.Bacteria === 'L.plantarum'", "value": {"gradient": "linear", "x1": 0, "y1": 0, "x2": 1.0748, "y2": 0.9118, "stops": [
                 {"offset": 0.0204, "color": "#fff"}, {"offset": 0.0294, "color": "#333"}, {"offset": 0.0384, "color": "#fff"},
                 {"offset": 0.0792, "color": "#fff"}, {"offset": 0.0882, "color": "#333"}, {"offset": 0.0972, "color": "#fff"},
                 {"offset": 0.1381, "color": "#fff"}, {"offset": 0.1471, "color": "#333"}, {"offset": 0.1561, "color": "#fff"},
                 {"offset": 0.1969, "color": "#fff"}, {"offset": 0.2059, "color": "#333"}, {"offset": 0.2149, "color": "#fff"},
                 {"offset": 0.2557, "color": "#fff"}, {"offset": 0.2647, "color": "#333"}, {"offset": 0.2737, "color": "#fff"},
                 {"offset": 0.3145, "color": "#fff"}, {"offset": 0.3235, "color": "#333"}, {"offset": 0.3325, "color": "#fff"},
                 {"offset": 0.3734, "color": "#fff"}, {"offset": 0.3824, "color": "#333"}, {"offset": 0.3914, "color": "#fff"},
                 {"offset": 0.4322, "color": "#fff"}, {"offset": 0.4412, "color": "#333"}, {"offset": 0.4502, "color": "#fff"},
                 {"offset": 0.4910, "color": "#fff"}, {"offset": 0.5, "color": "#333"}, {"offset": 0.5090, "color": "#fff"},
                 {"offset": 0.5498, "color": "#fff"}, {"offset": 0.5588, "color": "#333"}, {"offset": 0.5678, "color": "#fff"},
                 {"offset": 0.6087, "color": "#fff"}, {"offset": 0.6177, "color": "#333"}, {"offset": 0.6267, "color": "#fff"},
                 {"offset": 0.6675, "color": "#fff"}, {"offset": 0.6765, "color": "#333"}, {"offset": 0.6855, "color": "#fff"},
                 {"offset": 0.7263, "color": "#fff"}, {"offset": 0.7353, "color": "#333"}, {"offset": 0.7443, "color": "#fff"},
                 {"offset": 0.7851, "color": "#fff"}, {"offset": 0.7941, "color": "#333"}, {"offset": 0.8031, "color": "#fff"},
                 {"offset": 0.8439, "color": "#fff"}, {"offset": 0.8529, "color": "#333"}, {"offset": 0.8619, "color": "#fff"},
                 {"offset": 0.9028, "color": "#fff"}, {"offset": 0.9118, "color": "#333"}, {"offset": 0.9208, "color": "#fff"},
                 {"offset": 0.9616, "color": "#fff"}, {"offset": 0.9706, "color": "#333"}, {"offset": 0.9796, "color": "#fff"}]}}
             ],
             "value": {"gradient": "linear", "x1": 0, "y1": 0, "x2": 1.178, "y2": 0.2993, "stops": [
               {"offset": 0.0322, "color": "#fff"}, {"offset": 0.0455, "color": "#333"}, {"offset": 0.0588, "color": "#fff"},
               {"offset": 0.1231, "color": "#fff"}, {"offset": 0.1364, "color": "#333"}, {"offset": 0.1497, "color": "#fff"},
               {"offset": 0.2140, "color": "#fff"}, {"offset": 0.2273, "color": "#333"}, {"offset": 0.2406, "color": "#fff"},
               {"offset": 0.3049, "color": "#fff"}, {"offset": 0.3182, "color": "#333"}, {"offset": 0.3315, "color": "#fff"},
               {"offset": 0.3958, "color": "#fff"}, {"offset": 0.4091, "color": "#333"}, {"offset": 0.4224, "color": "#fff"},
               {"offset": 0.4867, "color": "#fff"}, {"offset": 0.5, "color": "#333"}, {"offset": 0.5133, "color": "#fff"},
               {"offset": 0.5776, "color": "#fff"}, {"offset": 0.5909, "color": "#333"}, {"offset": 0.6042, "color": "#fff"},
               {"offset": 0.6685, "color": "#fff"}, {"offset": 0.6818, "color": "#333"}, {"offset": 0.6951, "color": "#fff"},
               {"offset": 0.7594, "color": "#fff"}, {"offset": 0.7727, "color": "#333"}, {"offset": 0.7860, "color": "#fff"},
               {"offset": 0.8503, "color": "#fff"}, {"offset": 0.8636, "color": "#333"}, {"offset": 0.8769, "color": "#fff"},
               {"offset": 0.9412, "color": "#fff"}, {"offset": 0.9545, "color": "#333"}, {"offset": 0.9678, "color": "#fff"}]}
           }}},
        {"mark": {"type": "point", "shape": "square", "size": 36, "filled": true, "fill": "white", "stroke": "#111111", "strokeWidth": 1, "opacity": 1},
         "encoding": {
           "x": {"field": "Bacteria", "type": "nominal", "scale": {"domain": ["L.reuteri", "L.plantarum", "SM"], "range": [62.5, 599.5], "paddingInner": 0, "paddingOuter": 0}, "axis": null},
           "y": {"field": "mean", "type": "quantitative", "scale": {"domain": [4.6, 7.4], "range": [408.3, 25.3], "nice": false, "zero": false}, "axis": null}}},
        {"mark": {"type": "text", "font": "Lato", "fontWeight": 800, "fontSize": 16, "baseline": "bottom", "dy": -1, "dx": 2, "color": "#111111"},
         "encoding": {
           "x": {"field": "Bacteria", "type": "nominal", "scale": {"domain": ["L.reuteri", "L.plantarum", "SM"], "range": [62.5, 599.5], "paddingInner": 0, "paddingOuter": 0}, "axis": null},
           "y": {"field": "boxHi", "type": "quantitative", "scale": {"domain": [4.6, 7.4], "range": [408.3, 25.3], "nice": false, "zero": false}, "axis": null},
           "text": {"field": "mean", "type": "quantitative", "format": ".4f"}}}
      ]
    }
  ]
}
